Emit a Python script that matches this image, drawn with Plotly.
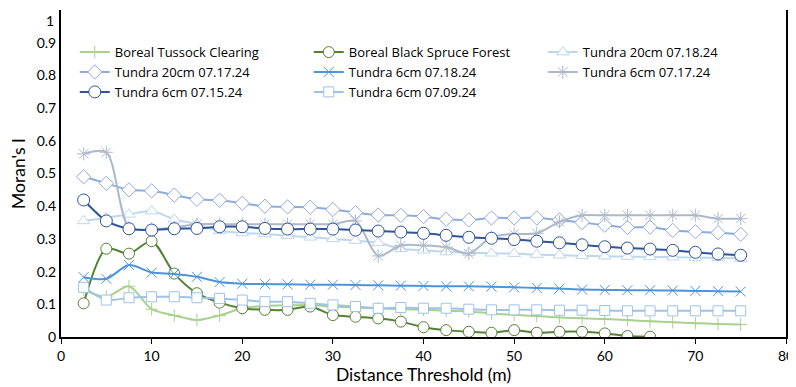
import plotly.graph_objects as go

distance = [2.5, 5, 7.5, 10, 12.5, 15, 17.5, 20, 22.5, 25, 27.5, 30, 32.5, 35, 37.5,
            40, 42.5, 45, 47.5, 50, 52.5, 55, 57.5, 60, 62.5, 65, 67.5, 70, 72.5, 75]

boreal_tussock = [0.145, 0.123, 0.155, 0.085, 0.066, 0.052, 0.066, 0.088, 0.095, 0.097,
                  0.098, 0.093, 0.090, 0.088, 0.085, 0.083, 0.080, 0.078, 0.072, 0.068,
                  0.064, 0.060, 0.057, 0.055, 0.052, 0.048, 0.045, 0.042, 0.040, 0.038]
boreal_spruce = [0.103, 0.270, 0.255, 0.293, 0.194, 0.134, 0.105, 0.088, 0.083, 0.083,
                 0.093, 0.067, 0.062, 0.057, 0.047, 0.030, 0.021, 0.016, 0.013, 0.021,
                 0.013, 0.016, 0.016, 0.011, 0.003, 0.001]
tundra20_0718 = [0.355, 0.365, 0.375, 0.385, 0.360, 0.345, 0.325, 0.318, 0.315, 0.310,
                 0.305, 0.300, 0.295, 0.288, 0.270, 0.265, 0.260, 0.258, 0.256, 0.255,
                 0.252, 0.250, 0.248, 0.247, 0.246, 0.245, 0.244, 0.243, 0.242, 0.240]
tundra20_0717 = [0.490, 0.470, 0.450, 0.447, 0.434, 0.421, 0.418, 0.409, 0.400, 0.398,
                 0.397, 0.390, 0.380, 0.373, 0.372, 0.368, 0.360, 0.358, 0.364, 0.364,
                 0.364, 0.358, 0.350, 0.342, 0.335, 0.336, 0.326, 0.322, 0.319, 0.314]
tundra6_0718 = [0.183, 0.178, 0.220, 0.197, 0.193, 0.184, 0.168, 0.163, 0.162, 0.161,
                0.160, 0.160, 0.159, 0.158, 0.157, 0.156, 0.155, 0.155, 0.154, 0.152,
                0.150, 0.148, 0.145, 0.144, 0.143, 0.143, 0.142, 0.141, 0.140, 0.139]
tundra6_0717 = [0.560, 0.565, 0.335, 0.330, 0.335, 0.345, 0.345, 0.345, 0.345, 0.345,
                0.345, 0.345, 0.355, 0.248, 0.280, 0.280, 0.275, 0.255, 0.305, 0.315,
                0.317, 0.352, 0.372, 0.372, 0.372, 0.372, 0.372, 0.372, 0.362, 0.362]
tundra6_0715 = [0.419, 0.355, 0.331, 0.327, 0.331, 0.332, 0.337, 0.337, 0.332, 0.330,
                0.330, 0.330, 0.327, 0.324, 0.321, 0.317, 0.311, 0.305, 0.302, 0.298,
                0.293, 0.288, 0.282, 0.276, 0.272, 0.269, 0.265, 0.259, 0.254, 0.250]
tundra6_0709 = [0.152, 0.113, 0.120, 0.123, 0.123, 0.120, 0.118, 0.113, 0.108, 0.108,
                0.103, 0.098, 0.093, 0.088, 0.090, 0.088, 0.088, 0.085, 0.083, 0.083,
                0.083, 0.082, 0.082, 0.081, 0.080, 0.080, 0.080, 0.080, 0.080, 0.080]

y_ticks = [0, 0.1, 0.2, 0.3, 0.4, 0.5, 0.6, 0.7, 0.8, 0.9]
y_ticktext = ["0", "0.1", "0.2", "0.3", "0.4", "0.5", "0.6", "0.7", "0.8", "0.9"]
y_top_label = "1"
x_ticks = [0, 10, 20, 30, 40, 50, 60, 70, 80]

series = [
    ("Boreal Tussock Clearing", boreal_tussock, "#a9d18e", "cross-thin", 9, "#a9d18e"),
    ("Boreal Black Spruce Forest", boreal_spruce, "#548235", "circle", 11, "white"),
    ("Tundra 20cm 07.18.24", tundra20_0718, "#bdd7ee", "triangle-up", 11, "white"),
    ("Tundra 20cm 07.17.24", tundra20_0717, "#8faadc", "diamond", 11, "white"),
    ("Tundra 6cm 07.18.24", tundra6_0718, "#4d94db", "x-thin", 10, "#4d94db"),
    ("Tundra 6cm 07.17.24", tundra6_0717, "#adb9ca", "asterisk", 11, "#adb9ca"),
    ("Tundra 6cm 07.15.24", tundra6_0715, "#2f5597", "circle", 12, "white"),
    ("Tundra 6cm 07.09.24", tundra6_0709, "#9dc3e6", "square", 10, "white"),
]

fig = go.Figure()
for name, vals, color, sym, size, fill in series:
    fig.add_trace(go.Scatter(
        x=distance[:len(vals)], y=vals, name=name, mode="lines+markers",
        line=dict(color=color, width=2, shape="spline", smoothing=0.8),
        marker=dict(symbol=sym, size=size, color=fill,
                    line=dict(color=color, width=1)),
    ))

font = "Lato, 'Liberation Sans', sans-serif"
fig.update_layout(
    width=788, height=379,
    margin=dict(l=53, r=10, t=2, b=50, autoexpand=False),
    paper_bgcolor="white", plot_bgcolor="white",
    font=dict(family=font, size=14, color="#000000"),
    showlegend=True,
    legend=dict(
        orientation="h", xref="paper", yref="paper",
        x=0.019, y=0.917, xanchor="left", yanchor="top",
        entrywidth=189, entrywidthmode="pixels",
        font=dict(family="'Open Sans', sans-serif", size=13, color="#000000"),
        bgcolor="rgba(0,0,0,0)", traceorder="normal",
    ),
    xaxis=dict(
        range=[0, 80], tickvals=x_ticks,
        showgrid=False, zeroline=False, showline=True, linecolor="#000000",
        linewidth=2, ticks="outside", ticklen=5, tickcolor="#000000",
        ticklabeloverflow="allow",
        title=dict(text="Distance Threshold (m)", font=dict(size=17.5), standoff=2),
    ),
    yaxis=dict(
        range=[0, 1], tickvals=y_ticks, ticktext=y_ticktext,
        showgrid=False, zeroline=False, showline=True, mirror=True,
        linecolor="#000000", linewidth=2, ticks="",
        title=dict(text="Moran's I", font=dict(size=17.5), standoff=11),
    ),
    annotations=[dict(
        text=y_top_label, xref="paper", yref="y", x=0, y=1,
        xanchor="right", yanchor="top", xshift=-6, yshift=-1, borderpad=0,
        showarrow=False, font=dict(family=font, size=14, color="#000000"),
    )],
)

fig.write_html("out.html")
